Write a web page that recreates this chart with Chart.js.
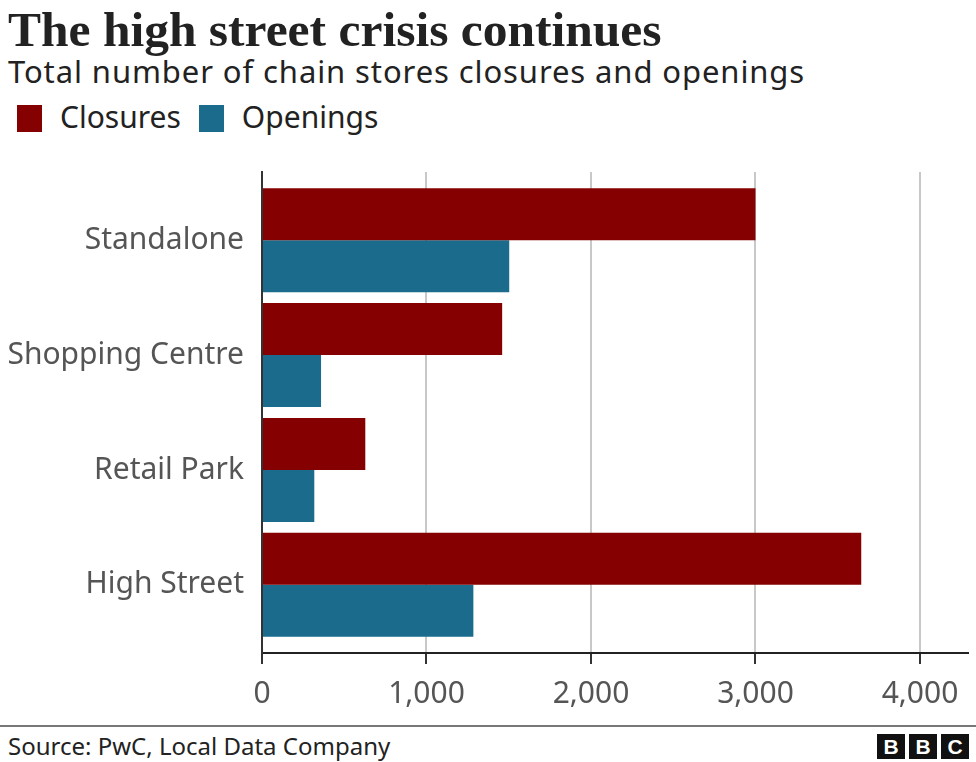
<!DOCTYPE html>
<html>
<head>
<meta charset="utf-8">
<script src="https://cdn.jsdelivr.net/npm/chart.js@4.4.0/dist/chart.umd.min.js"></script>
<style>
    body { margin: 0; background: #fff; width: 976px; height: 762px; position: relative; overflow: hidden; font-family: "Noto Sans", sans-serif; color: #222; }
    #title { position: absolute; left: 8px; top: 1px; font: bold 49.5px "Liberation Serif", serif; color: #222; white-space: nowrap; }
    #subtitle { position: absolute; left: 8px; top: 50px; font-size: 31px; letter-spacing: 0.9px; color: #222; white-space: nowrap; }
    #legend { position: absolute; left: 17px; top: 96px; font-size: 30px; white-space: nowrap; }
    #legend span.sw { display: inline-block; width: 25px; height: 27px; vertical-align: -4px; margin-right: 18px; }
    #legend span.lab { margin-right: 18px; }
    #wrap { position: absolute; left: 0; top: 150px; width: 976px; height: 570px; }
    #rule { position: absolute; left: 0; top: 725px; width: 976px; height: 2px; background: #777; }
    #source { position: absolute; left: 8px; top: 729px; font-size: 24px; color: #222; white-space: nowrap; }
    #bbc { position: absolute; left: 877px; top: 734px; }
    #bbc span { display: inline-block; width: 28px; height: 25px; background: #111; color: #fff; font: bold 21px "Liberation Sans", sans-serif; text-align: center; line-height: 25px; margin-right: 4px; float: left; }
</style>
</head>
<body>
<div id="title">The high street crisis continues</div>
<div id="subtitle">Total number of chain stores closures and openings</div>
<div id="legend"></div>
<div id="wrap"><canvas id="myChart"></canvas></div>
<div id="rule"></div>
<div id="source">Source: PwC, Local Data Company</div>
<div id="bbc"><span>B</span><span>B</span><span>C</span></div>
<script>
const categories = ["Standalone", "Shopping Centre", "Retail Park", "High Street"];
const closures = [3000, 1460, 628, 3643];
const openings = [1503, 359, 318, 1285];
const xTicks = [0, 1000, 2000, 3000, 4000];
const seriesNames = ["Closures", "Openings"];
const seriesColors = ["#850000", "#1a6b8c"];

function fmtNum(v) {
    return v.toLocaleString("en-US");
}

function buildLegend() {
    const el = document.querySelector("#legend");
    el.innerHTML = seriesNames.map((name, i) =>
        `<span class="sw" style="background:${seriesColors[i]}"></span><span class="lab">${name}</span>`
    ).join("");
}

function main() {
    buildLegend();
    const ctx = document.getElementById("myChart");

    new Chart(ctx, {
        type: "bar",
        data: {
            labels: categories,
            datasets: [
                {
                    label: seriesNames[0],
                    data: closures,
                    backgroundColor: seriesColors[0],
                    borderWidth: 0,
                },
                {
                    label: seriesNames[1],
                    data: openings,
                    backgroundColor: seriesColors[1],
                    borderWidth: 0,
                },
            ],
        },
        options: {
            indexAxis: "y",
            responsive: true,
            maintainAspectRatio: false,
            animation: false,
            categoryPercentage: 0.905,
            barPercentage: 1,
            layout: { padding: { top: 22, right: 8, left: 0, bottom: 0 } },
            plugins: {
                legend: { display: false },
                tooltip: { enabled: false },
            },
            scales: {
                x: {
                    min: 0,
                    max: 4292,
                    afterBuildTicks: (s) => {
                        s.ticks = xTicks.map((v) => ({ value: v }));
                    },
                    afterFit: (s) => {
                        s.height = 67;
                        s.paddingLeft = 0;
                        s.paddingRight = 0;
                    },
                    ticks: {
                        padding: 12,
                        color: "#555",
                        font: { family: "Noto Sans", size: 30 },
                        callback: (v) => fmtNum(v),
                    },
                    grid: {
                        color: "#c8c8c8",
                        lineWidth: 2,
                        tickColor: "#333",
                        tickLength: 11,
                    },
                    border: { color: "#222", width: 2 },
                },
                y: {
                    offset: true,
                    // a little room above the first and below the last group
                    afterBuildTicks: (s) => {
                        s._startValue -= 0.093;
                        s._valueRange += 0.186;
                    },
                    afterFit: (s) => {
                        s.width = 262;
                        s.paddingTop = 0;
                        s.paddingBottom = 0;
                    },
                    ticks: {
                        padding: 18,
                        color: "#555",
                        font: { family: "Noto Sans", size: 30 },
                    },
                    grid: { display: false, drawTicks: false },
                    border: { color: "#333", width: 2 },
                },
            },
        },
    });
}

main();
</script>
</body>
</html>
